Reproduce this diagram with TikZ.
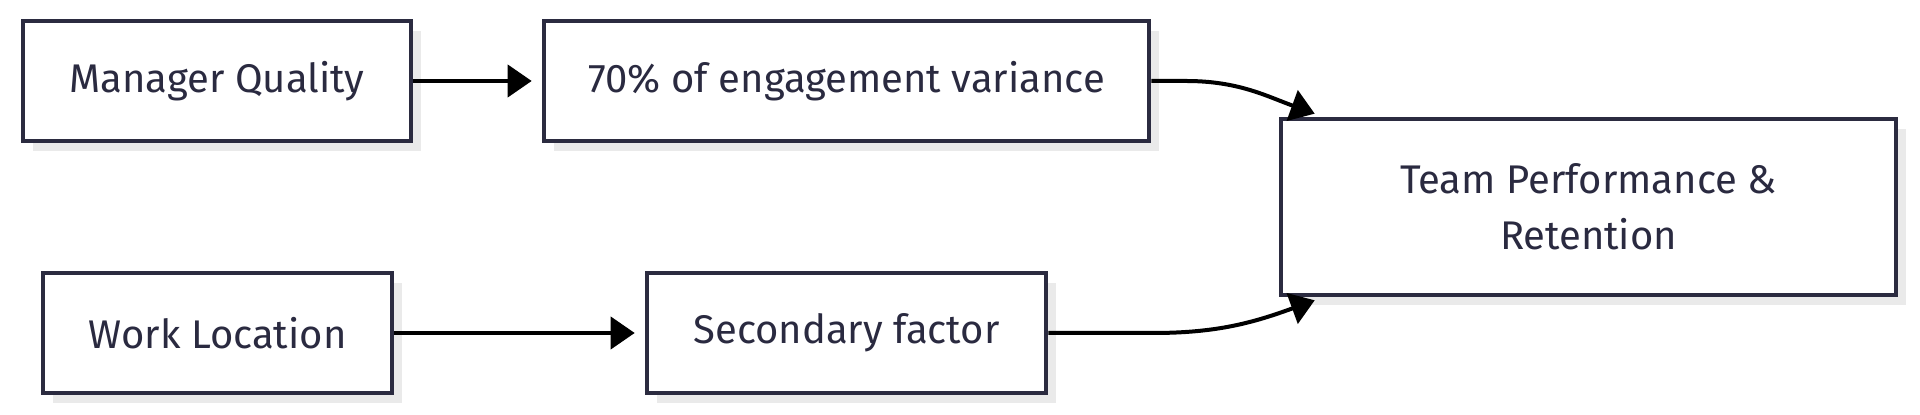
\documentclass[tikz,border=0pt]{standalone}
\usepackage{fontspec}
\setmainfont{Fira Sans}
\usetikzlibrary{arrows.meta,shadows}
\definecolor{boxline}{HTML}{2B2B40}
\definecolor{boxtext}{HTML}{2A2A40}
\definecolor{boxshade}{HTML}{EAEAEA}

\begin{document}
\begin{tikzpicture}[x=0.5pt, y=-0.5pt, >={Triangle[length=12pt, width=16pt]},
        factor/.style={draw=boxline, line width=2.3pt, fill=white, text=boxtext, inner sep=0pt,
            minimum height=60pt, align=center, font=\fontsize{20}{28}\selectfont,
            drop shadow={shadow xshift=5pt, shadow yshift=-5pt, fill=boxshade, opacity=1}},
        link/.style={->, line width=2pt, black}]
    \useasboundingbox (0, 0) rectangle (1920, 415);
    \node[factor, minimum width=194pt] (manager) at (217, 81) {Manager Quality};
    \node[factor, minimum width=302.5pt] (variance) at (846.5, 81) {70\% of engagement variance};
    \node[factor, minimum width=174.5pt] (location) at (217.5, 333) {Work Location};
    \node[factor, minimum width=199.5pt] (secondary) at (846.5, 333) {Secondary factor};
    \node[factor, minimum width=307.5pt, minimum height=88pt] (team) at (1588.5, 207) {Team Performance \&\\Retention};
    \draw[link, shorten >=5pt] (manager) -- (variance);
    \draw[link, shorten >=5pt] (location) -- (secondary);
    \draw[link] (variance.east) -- ++(35, 0) to[out=0, in=160] ([xshift=18pt, yshift=1.5pt]team.north west);
    \draw[link] (secondary.east) -- ++(105, 0) to[out=0, in=200] ([xshift=18pt, yshift=-1.5pt]team.south west);
\end{tikzpicture}
\end{document}
